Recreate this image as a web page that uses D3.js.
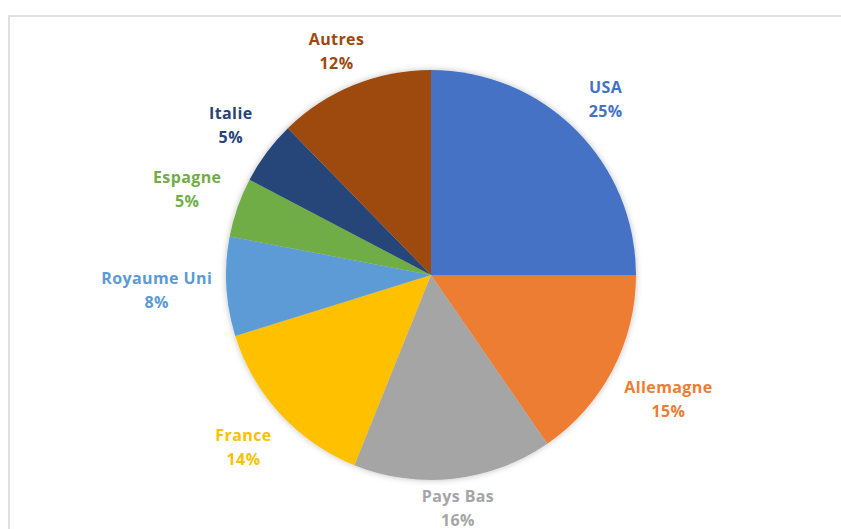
<!DOCTYPE html>
<html>
<head>
<meta charset="utf-8">
<script src="https://cdn.jsdelivr.net/npm/d3@7"></script>
<style>
  body { margin: 0; background: #fff; }
  svg { display: block; }
  text { font-family: "Open Sans", Lato, sans-serif; font-weight: bold; font-size: 16px; letter-spacing: 0.4px; }
</style>
</head>
<body>
<svg id="chart"></svg>
<script>
// Market share by country
const countries = ['USA', 'Allemagne', 'Pays Bas', 'France', 'Royaume Uni', 'Espagne', 'Italie', 'Autres'];
const shares = [25, 15.4, 15.7, 14.1, 7.8, 4.7, 5.0, 12.3];
const colors = ['#4472C4', '#ED7D31', '#A5A5A5', '#FFC000', '#5B9BD5', '#70AD47', '#264478', '#9E480E'];

const W = 841, H = 529,
    cx = 431, cy = 275,
    radius = 205,
    labelGap = 13,
    lineStep = 24;

const svg = d3.select('#chart').attr('width', W).attr('height', H);

// Chart frame
svg.append('rect')
    .attr('x', 9).attr('y', 16)
    .attr('width', W).attr('height', H)
    .attr('fill', 'none')
    .attr('stroke', '#e0e0e0')
    .attr('stroke-width', 2);

// Soft shadow under the pie
const defs = svg.append('defs');
const shadow = defs.append('filter').attr('id', 'shadow')
    .attr('x', '-10%').attr('y', '-10%').attr('width', '120%').attr('height', '120%');
shadow.append('feDropShadow')
    .attr('dx', 0).attr('dy', 0).attr('stdDeviation', 3)
    .attr('flood-color', '#000').attr('flood-opacity', 0.25);

const data = countries.map((c, i) => ({ name: c, value: shares[i], color: colors[i] }));
const total = d3.sum(shares);

const pie = d3.pie().sort(null).value(d => d.value);
const arc = d3.arc().innerRadius(0).outerRadius(radius);
const arcs = pie(data);

const g = svg.append('g').attr('transform', `translate(${cx},${cy})`);

g.append('g').attr('filter', 'url(#shadow)')
  .selectAll('path').data(arcs).enter().append('path')
    .attr('d', arc)
    .attr('fill', d => d.data.color);

// Labels placed outside, pushed out by their own box size
const labels = g.selectAll('.label').data(arcs).enter().append('g')
    .attr('class', 'label')
    .attr('fill', d => d.data.color);

labels.append('text')
    .attr('text-anchor', 'middle')
    .attr('y', -lineStep / 2 + 5)
    .text(d => d.data.name);
labels.append('text')
    .attr('text-anchor', 'middle')
    .attr('y', lineStep / 2 + 5)
    .text(d => Math.round(d.data.value / total * 100) + '%');

labels.attr('transform', function(d) {
    const box = this.getBBox();
    const hw = box.width / 2, hh = lineStep;
    const a = (d.startAngle + d.endAngle) / 2,
        s = Math.sin(a), c = Math.cos(a);
    const r = radius + labelGap + hw * Math.abs(s) + hh * Math.abs(c);
    let x = r * s, y = -r * c;
    // keep inside plot area
    y = Math.min(y, H - cy - hh + 4);
    y = Math.max(y, 16 - cy + hh + 12);
    return `translate(${x},${y})`;
});
</script>
</body>
</html>
